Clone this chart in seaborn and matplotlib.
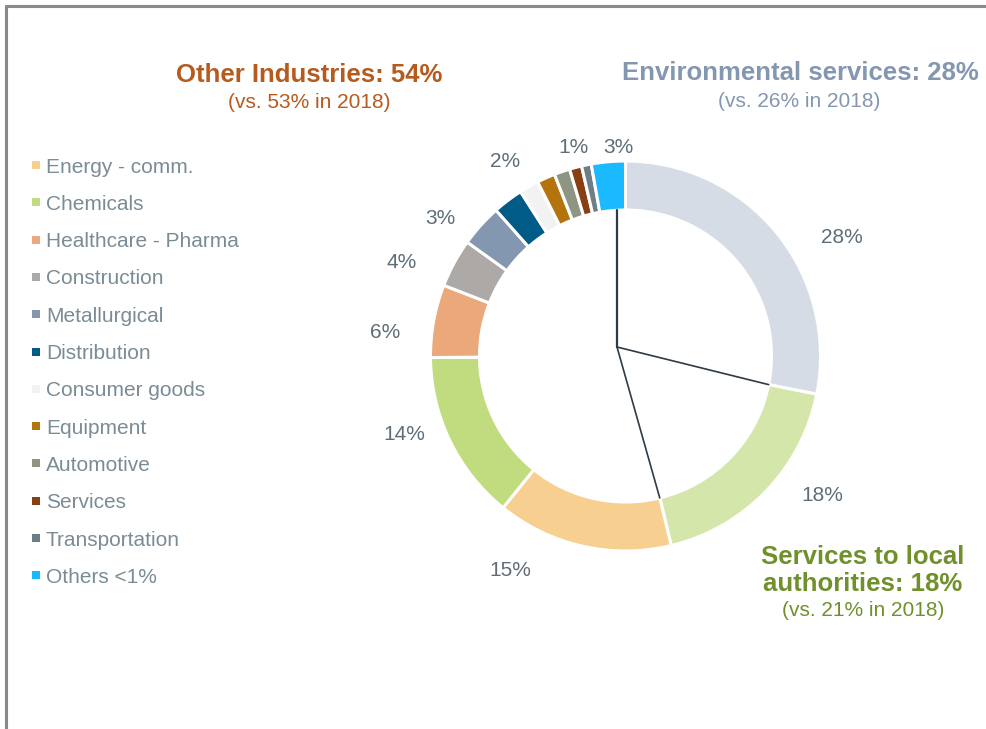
import matplotlib.pyplot as plt
from matplotlib.lines import Line2D
import numpy as np
import seaborn as sns

# sectors in clockwise order starting at 12 o'clock
sectors = [
    "Environmental services", "Services to local authorities", "Energy - comm.",
    "Chemicals", "Healthcare - Pharma", "Construction", "Metallurgical",
    "Distribution", "Consumer goods", "Equipment", "Automotive", "Services",
    "Transportation", "Others <1%",
]
shares = [28, 18, 14.5, 14, 6, 4, 3.5, 2.5, 1.6, 1.5, 1.3, 1.0, 0.8, 2.8]
share_labels = ["28%", "18%", "15%", "14%", "6%", "4%", "3%", "2%", "", "", "", "1%", "", "3%"]
sector_colors = [
    "#D6DCE5", "#D4E6A9", "#F7CF90", "#C0DC7E", "#EBA87B", "#ADA9A7", "#8497B0",
    "#005B86", "#F2F2F2", "#B3740E", "#8E9583", "#8A3F12", "#6E7E87", "#1BB9FF",
]
group_titles = ["Other Industries: 54%", "Environmental services: 28%", "Services to local\nauthorities: 18%"]
group_notes = ["(vs. 53% in 2018)", "(vs. 26% in 2018)", "(vs. 21% in 2018)"]
group_colors = ["#B65A1E", "#8497B0", "#70902B"]

sns.set_style("white")
plt.rcParams["font.family"] = ["Liberation Sans", "DejaVu Sans"]

W, H = 987, 729
fig = plt.figure(figsize=(W / 100, H / 100), dpi=100)
ax = fig.add_axes([0, 0, 1, 1])

cx, cy = 625.5, H - 356
R, ring = 195, 49
palette = sns.color_palette(sector_colors)
wedges, _ = ax.pie(
    shares, colors=palette, startangle=90, counterclock=False, radius=R,
    center=(cx, cy), wedgeprops=dict(width=ring, edgecolor="white", linewidth=2.2),
)
ax.set_xlim(0, W)
ax.set_ylim(0, H)
ax.set_aspect("equal")
ax.axis("off")

# percentage labels: (clockwise angle from top, radius factor)
label_pos = [(61, 1.27), (125, 1.23), (208.5, 1.24), (251, 1.20), (276, 1.24), (293, 1.25),
             (307, 1.19), (328.5, 1.18), None, None, None, (346, 1.11), None, (358, 1.08)]
for lab, pos in zip(share_labels, label_pos):
    if not lab:
        continue
    ang, rf = pos
    t = np.deg2rad(ang)
    ax.text(cx + rf * R * np.sin(t), cy + rf * R * np.cos(t), lab, ha="center",
            va="center_baseline", fontsize=15, color="#5E6E78")

# connector lines marking the two non-industry groups
r_in = R - ring
bounds = np.cumsum(shares) / sum(shares) * 2 * np.pi
hx, hy = cx - 8.5, cy + 9
ax.plot([hx, hx], [hy, cy + np.sqrt(r_in**2 - (hx - cx) ** 2)], color="#2F3B44", lw=1.6)
for b in bounds[:2]:
    ax.plot([hx, cx + r_in * np.sin(b)], [hy, cy + r_in * np.cos(b)], color="#2F3B44", lw=1.2)

# legend for the industry sectors
for i, name in enumerate(sectors[2:]):
    y = H - (165 + i * 37.3)
    ax.scatter(36, y, marker="s", s=26, color=palette[i + 2], linewidths=0)
    ax.text(46, y, name, va="center_baseline", fontsize=15, color="#7A8C96")

# group headers (y = baseline of the last title line)
title_xy = [(309, 82), (800, 80), (863, 591)]
note_xy = [(309, 108), (799, 107), (863, 616)]
for title, note, c, (tx, ty), (nx, ny) in zip(group_titles, group_notes, group_colors, title_xy, note_xy):
    ax.text(tx, H - ty, title, ha="center", va="baseline", fontsize=18.5, fontweight="bold",
            color=c, linespacing=1.17, multialignment="center")
    ax.text(nx, H - ny, note, ha="center", va="baseline", fontsize=15, color=c)

# frame
frame_kw = dict(color="#8A8A8A", lw=2.2, clip_on=False)
ax.add_line(Line2D([6, W], [H - 6, H - 6], **frame_kw))
ax.add_line(Line2D([6, 6], [H - 6, 0], **frame_kw))

fig.savefig("out.png", dpi=100)
plt.close(fig)
